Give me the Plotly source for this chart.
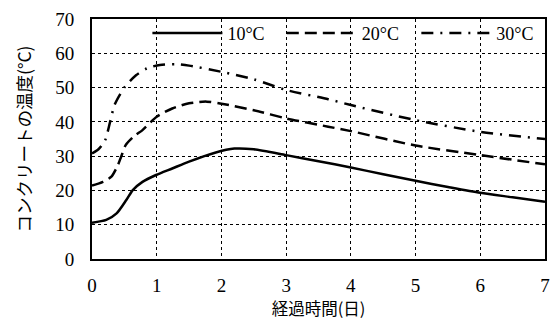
import plotly.graph_objects as go

# 10°C
x10 = [0, 0.22, 0.38, 0.53, 0.63, 0.78, 0.99, 1.24, 1.5, 1.9, 2.2, 2.5, 3.0, 3.5, 4.0, 4.5, 5.0, 5.5, 6.0, 6.5, 7.0]
y10 = [10.6, 11.4, 13.3, 17.2, 20.1, 22.5, 24.5, 26.4, 28.4, 31.0, 32.2, 32.0, 30.3, 28.5, 26.7, 24.7, 22.8, 21.0, 19.3, 18.0, 16.7]
# 20°C
x20 = [0, 0.17, 0.3, 0.4, 0.45, 0.52, 0.65, 0.78, 1.0, 1.24, 1.5, 1.77, 2.0, 2.5, 3.0, 3.65, 4.0, 5.0, 6.0, 7.0]
y20 = [21.4, 22.5, 24.0, 27.4, 29.8, 33.2, 35.8, 37.6, 41.5, 43.9, 45.4, 45.9, 45.3, 43.4, 41.0, 38.6, 37.3, 33.1, 30.3, 27.6]
# 30°C
x30 = [0, 0.1, 0.2, 0.28, 0.35, 0.5, 0.68, 0.85, 1.05, 1.3, 1.5, 2.0, 2.5, 3.0, 3.65, 4.0, 5.0, 6.0, 7.0]
y30 = [30.8, 32.0, 34.5, 40.0, 45.0, 50.0, 53.6, 55.6, 56.6, 56.8, 56.4, 54.6, 52.4, 49.3, 46.6, 44.9, 40.5, 37.1, 35.0]

names = ["10°C", "20°C", "30°C"]
xtick_vals = [0, 1, 2, 3, 4, 5, 6, 7]
ytick_vals = [0, 10, 20, 30, 40, 50, 60, 70]

serif = "Liberation Serif, Times New Roman, serif"
jp = "Noto Sans CJK JP, sans-serif"

fig = go.Figure()
series = [(x10, y10, "solid"), (x20, y20, "12px,6px"), (x30, y30, "12px,7px,2px,7px")]
legend_ids = ["legend", "legend2", "legend3"]
for (xs, ys, dash), nm, lg in zip(series, names, legend_ids):
    fig.add_trace(go.Scatter(
        x=xs, y=ys, mode="lines", name=nm, legend=lg,
        line=dict(color="black", width=2.5, dash=dash, shape="spline", smoothing=0.7),
    ))

def leg(xpos):
    return dict(
        orientation="h", x=xpos, xanchor="left", y=1.018, yanchor="top",
        bgcolor="rgba(0,0,0,0)", borderwidth=0,
        font=dict(family=serif, size=18, color="black"),
        itemwidth=70,
    )

fig.update_layout(
    width=557, height=320,
    margin=dict(l=92, r=7, t=19, b=61),
    paper_bgcolor="white", plot_bgcolor="white",
    showlegend=True,
    legend=leg(0.1223), legend2=leg(0.419), legend3=leg(0.716),
    xaxis=dict(
        range=[0, 7], tickvals=xtick_vals, ticktext=[str(v) for v in xtick_vals],
        showgrid=True, gridcolor="black", griddash="dot", gridwidth=1,
        showline=True, linecolor="black", linewidth=2, mirror=True,
        ticks="", zeroline=False, ticklabelstandoff=8,
        tickfont=dict(family=serif, size=19, color="black"),
        title=dict(text="経過時間(日)", font=dict(family=jp, size=16.5, color="black"), standoff=4),
    ),
    yaxis=dict(
        range=[0, 70], tickvals=ytick_vals, ticktext=[str(v) for v in ytick_vals],
        showgrid=True, gridcolor="black", griddash="dot", gridwidth=1,
        showline=True, linecolor="black", linewidth=2, mirror=True,
        ticks="", zeroline=False, ticklabelstandoff=12,
        tickfont=dict(family=serif, size=19, color="black"),
        title=dict(text="コンクリートの温度(°C)", font=dict(family=jp, size=17.5, color="black"), standoff=19),
    ),
)

fig.write_html("out.html")
